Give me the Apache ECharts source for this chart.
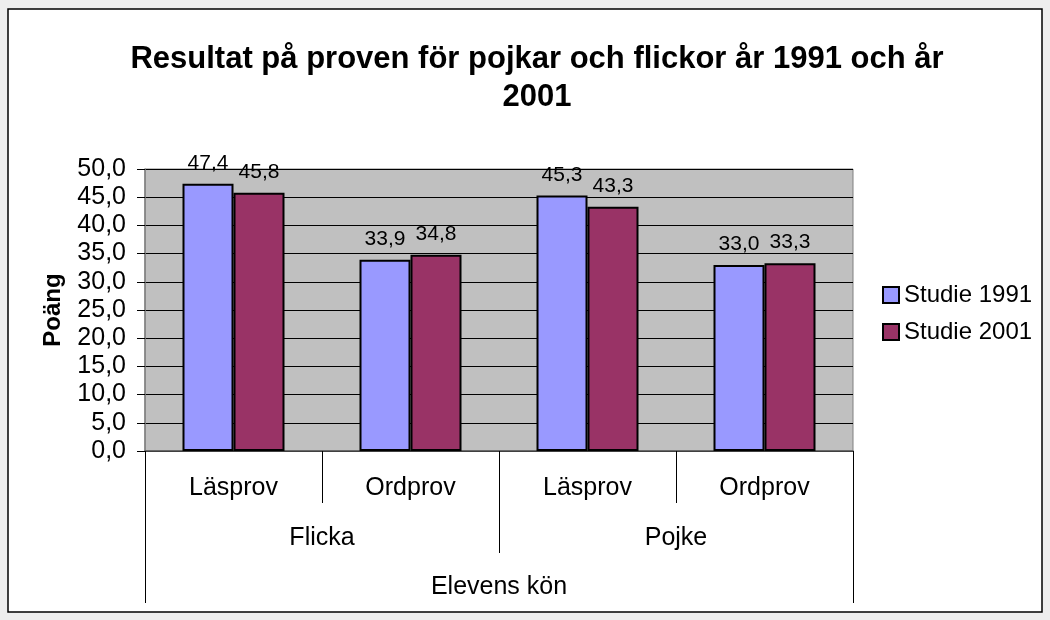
<!DOCTYPE html>
<html>
<head>
<meta charset="utf-8">
<script src="https://cdn.jsdelivr.net/npm/echarts@6/dist/echarts.min.js"></script>
<style>
  html, body { margin: 0; padding: 0; background: #eeeeee; }
  #chart { width: 1050px; height: 620px; }
</style>
</head>
<body>
<div id="chart"></div>
<script>
// data
var tests = ['Läsprov', 'Ordprov', 'Läsprov', 'Ordprov'];
var genders = ['Flicka', 'Pojke'];
var groupName = ['Elevens kön'];
var study1991 = [47.4, 33.9, 45.3, 33.0];
var study2001 = [45.8, 34.8, 43.3, 33.3];

var font = 'Liberation Sans, Arial, sans-serif';
function comma(v) { return Number(v).toFixed(1).replace('.', ','); }

var myChart = echarts.init(document.getElementById('chart'));

var option = {
  backgroundColor: '#eeeeee',
  textStyle: { fontFamily: font },
  graphic: [{
    type: 'rect',
    z: -10,
    shape: { x: 8, y: 9, width: 1034, height: 603 },
    style: { fill: '#ffffff', stroke: '#000000', lineWidth: 1.5 }
  }],
  title: {
    text: 'Resultat på proven för pojkar och flickor år 1991 och år\n2001',
    left: 532,
    textAlign: 'center',
    top: 35,
    textStyle: { fontFamily: font, fontSize: 31, fontWeight: 'bold', color: '#000', lineHeight: 38 }
  },
  legend: {
    orient: 'vertical',
    left: 882,
    top: 283,
    padding: 0,
    itemWidth: 16,
    itemHeight: 16,
    itemGap: 13,
    icon: 'rect',
    textStyle: { fontFamily: font, fontSize: 24, color: '#000' },
    data: ['Studie 1991', 'Studie 2001']
  },
  grid: {
    left: 145, right: 197, top: 169, bottom: 169,
    show: true,
    backgroundColor: '#c0c0c0',
    borderColor: '#808080',
    borderWidth: 1
  },
  xAxis: [{
    type: 'category',
    data: tests,
    position: 'bottom',
    axisLine: { show: true, lineStyle: { color: '#555', width: 1.5 } },
    axisTick: { show: true, interval: 0, length: 52, lineStyle: { color: '#000', width: 1 } },
    axisLabel: { interval: 0, margin: 25, fontSize: 25, color: '#000', fontFamily: font }
  }, {
    type: 'category',
    data: genders,
    position: 'bottom',
    axisLine: { show: false },
    axisTick: { show: true, interval: 0, length: 102, lineStyle: { color: '#000', width: 1 } },
    axisLabel: { interval: 0, margin: 75, fontSize: 25, color: '#000', fontFamily: font }
  }, {
    type: 'category',
    data: groupName,
    position: 'bottom',
    axisLine: { show: false },
    axisTick: { show: true, interval: 0, length: 152, lineStyle: { color: '#000', width: 1 } },
    axisLabel: { interval: 0, margin: 124, fontSize: 25, color: '#000', fontFamily: font }
  }],
  yAxis: {
    type: 'value',
    min: 0,
    max: 50,
    interval: 5,
    name: 'Poäng',
    nameLocation: 'middle',
    nameGap: 80,
    nameRotate: 90,
    nameTextStyle: { fontFamily: font, fontSize: 24, fontWeight: 'bold', color: '#000' },
    axisLine: { show: true, lineStyle: { color: '#808080', width: 1.5 } },
    axisTick: { show: true, length: 8, lineStyle: { color: '#000' } },
    axisLabel: { fontSize: 25, color: '#000', margin: 19, fontFamily: font, formatter: comma },
    splitLine: { lineStyle: { color: '#000', width: 1 } }
  },
  series: [{
    name: 'Studie 1991',
    type: 'bar',
    data: study1991,
    barWidth: 51,
    barGap: '0%',
    itemStyle: { color: '#9999ff', borderColor: '#000', borderWidth: 2 },
    label: { show: true, position: 'top', distance: 10, fontSize: 21, color: '#000', fontFamily: font, formatter: function (p) { return comma(p.value); } }
  }, {
    name: 'Studie 2001',
    type: 'bar',
    data: study2001,
    barWidth: 51,
    barGap: '0%',
    itemStyle: { color: '#993366', borderColor: '#000', borderWidth: 2 },
    label: { show: true, position: 'top', distance: 10, fontSize: 21, color: '#000', fontFamily: font, formatter: function (p) { return comma(p.value); } }
  }]
};

myChart.setOption(option);
</script>
</body>
</html>
